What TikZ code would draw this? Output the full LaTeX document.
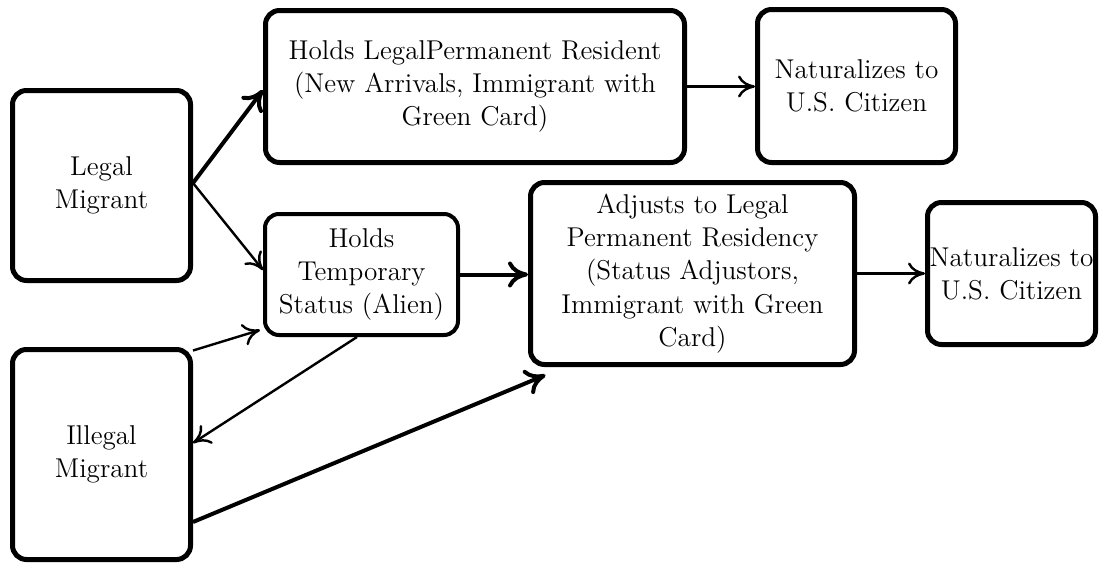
\documentclass[tikz,border=0pt]{standalone}
\usetikzlibrary{arrows.meta,calc}
\begin{document}
\begin{tikzpicture}[x=0.5pt,y=-0.5pt,
  box/.style={draw,rounded corners=7pt,line width=2.5pt,align=center,inner sep=0pt,
    font=\fontsize{13.6pt}{16.6pt}\selectfont},
  thickarr/.style={line width=2pt,-{To[length=10pt,width=13pt]}},
  thinarr/.style={line width=1.2pt,-{To[length=8.5pt,width=11pt]}}]
\useasboundingbox (0,0) rectangle (1102,563);
\node[box,minimum width=89pt,minimum height=95pt] (legal) at (101.5,185.5) {Legal\\Migrant};
\node[box,minimum width=209.5pt,minimum height=76pt] (lpr) at (475,86.5) {Holds LegalPermanent Resident\\(New Arrivals, Immigrant with\\Green Card)};
\node[box,minimum width=99pt,minimum height=76.5pt] (nat1) at (856.5,86) {Naturalizes to\\U.S. Citizen};
\node[box,line width=2pt,minimum width=96.5pt,minimum height=60.5pt] (temp) at (361.5,274.5) {Holds\\Temporary\\Status (Alien)};
\node[box,minimum width=162pt,minimum height=91pt] (adj) at (692.5,273.5) {Adjusts to Legal\\Permanent Residency\\(Status Adjustors,\\Immigrant with Green\\Card)};
\node[box,minimum width=84pt,minimum height=71pt] (nat2) at (1011.5,273.5) {Naturalizes to\\U.S. Citizen};
\node[box,minimum width=89pt,minimum height=105pt] (illegal) at (101.5,454.5) {Illegal\\Migrant};

\draw[thickarr] ([yshift=1.25pt]legal.east) -- ([yshift=-1.75pt]lpr.west);
\draw[thinarr] ([yshift=1.25pt]legal.east) -- ([yshift=2.25pt]temp.west);
\draw[thinarr] (lpr.east) -- (nat1.west |- lpr.east);
\draw[thickarr] (temp.east) -- (adj.west |- temp.east);
\draw[thinarr] (adj.east) -- (nat2.west |- adj.east);
\draw[thinarr] ([yshift=-1.75pt]illegal.north east) -- ([xshift=-1.5pt,yshift=3.5pt]temp.south west);
\draw[thinarr] ([xshift=-2.25pt]temp.south) -- ([yshift=5.75pt]illegal.east);
\draw[thickarr] ([yshift=-33.75pt]illegal.east) -- ([xshift=8.75pt,yshift=-4pt]adj.south west);
\end{tikzpicture}
\end{document}
